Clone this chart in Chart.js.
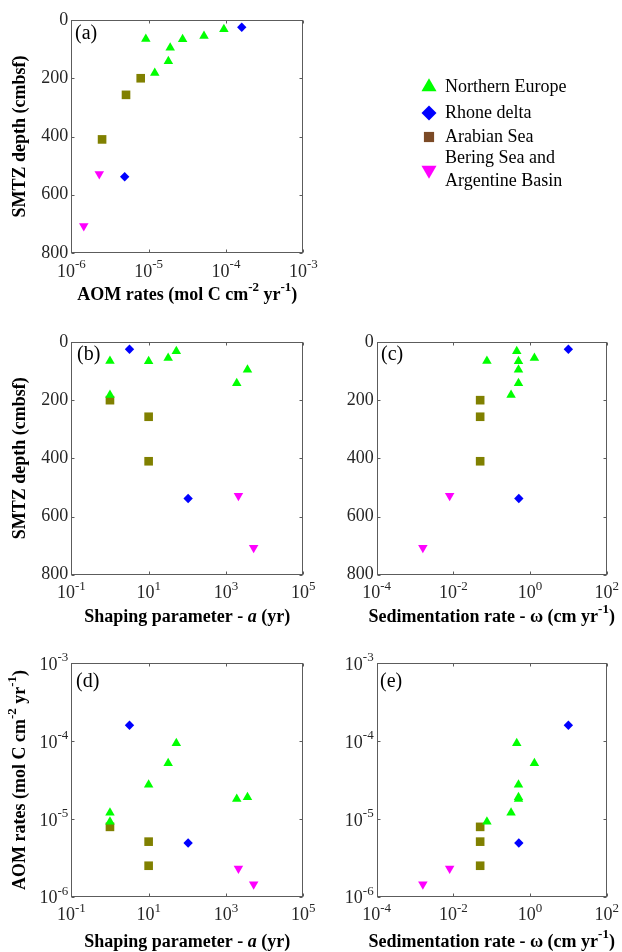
<!DOCTYPE html>
<html>
<head>
<meta charset="utf-8">
<title>SMTZ depth vs AOM rates</title>
<script src="https://cdn.jsdelivr.net/npm/chart.js@4.4.1/dist/chart.umd.min.js"></script>
<style>
  html, body { margin: 0; padding: 0; background: #fff; }
  #wrap { position: relative; width: 622px; height: 952px; overflow: hidden; }
  #wrap canvas { position: absolute; left: 0; top: 0; }
</style>
</head>
<body>
<div id="wrap">
  <canvas id="pa" width="622" height="952"></canvas>
  <canvas id="pb" width="622" height="952"></canvas>
  <canvas id="pc" width="622" height="952"></canvas>
  <canvas id="pd" width="622" height="952"></canvas>
  <canvas id="pe" width="622" height="952"></canvas>
</div>
<script>
const SERIF = "'Liberation Serif', 'Times New Roman', serif";
Chart.defaults.font.family = SERIF;
Chart.defaults.animation = false;

// ── Data ─────────────────────────────────────────────────────────────────────

const groups = ['Northern Europe', 'Rhone delta', 'Arabian Sea', 'Bering Sea and Argentine Basin'];

// Northern Europe
const neAom   = [9.2e-6, 1.9e-5, 2.75e-5, 5.2e-5, 9.4e-5, 1.8e-5, 1.2e-5];
const neDepth = [65, 95, 66, 55, 32, 142, 182];
const neShape = [1, 3600, 10, 32, 52, 1900, 1];
const neSed   = [0.075, 0.5, 0.5, 1.3, 0.45, 0.5, 0.32];

// Rhone delta
const rdAom   = [1.6e-4, 4.9e-6];
const rdDepth = [25, 538];
const rdShape = [3.2, 105];
const rdSed   = [10, 0.51];

// Arabian Sea
const asAom   = [7.9e-6, 5.1e-6, 2.5e-6];
const asDepth = [200, 257, 410];
const asShape = [1, 10, 10];
const asSed   = [0.05, 0.05, 0.05];

// Bering Sea and Argentine Basin
const bsAom   = [2.3e-6, 1.45e-6];
const bsDepth = [529, 707];
const bsShape = [2100, 5200];
const bsSed   = [0.008, 0.0016];

// tick labels (log axes hold the exponent)
const depthTicks = [0, 200, 400, 600, 800];
const aomTicks   = [-6, -5, -4, -3];
const shapeTicks = [-1, 1, 3, 5];
const sedTicks   = [-4, -2, 0, 2];

const VARS = {
  aom:   [neAom, rdAom, asAom, bsAom],
  depth: [neDepth, rdDepth, asDepth, bsDepth],
  shape: [neShape, rdShape, asShape, bsShape],
  sed:   [neSed, rdSed, asSed, bsSed],
};

// ── Axis + marker setup ──────────────────────────────────────────────────────

const AXES = {
  aom:   { type: 'logarithmic', min: 1e-6, max: 1e-3, ticks: aomTicks, log: true },
  depth: { type: 'linear', min: 0, max: 800, reverse: true, ticks: depthTicks, log: false },
  shape: { type: 'logarithmic', min: 0.1, max: 1e5, ticks: shapeTicks, log: true },
  sed:   { type: 'logarithmic', min: 1e-4, max: 100, ticks: sedTicks, log: true },
};

const TITLES = {
  aom:   [['AOM rates (mol C cm'], ['-2', 'sup'], [' yr'], ['-1', 'sup'], [')']],
  depth: [['SMTZ depth (cmbsf)']],
  shape: [['Shaping parameter - '], ['a', 'it'], [' (yr)']],
  sed:   [['Sedimentation rate - \u03c9 (cm yr'], ['-1', 'sup'], [')']],
};

const MARK = [
  { style: 'triangle', rot: 0,   r: 5.5, color: '#00ff00', legendR: 8.7, legendColor: '#00ff00' },
  { style: 'rectRot',  rot: 0,   r: 4.7, color: '#0000ff', legendR: 7.5, legendColor: '#0000ff' },
  { style: 'rect',     rot: 0,   r: 6.1, color: '#808000', legendR: 7.2, legendColor: '#7b4a26' },
  { style: 'triangle', rot: 180, r: 5.5, color: '#ff00ff', legendR: 8.7, legendColor: '#ff00ff' },
];

const PANELS = [
  { id: 'pa', tag: '(a)', x: 'aom',   y: 'depth', box: [71.3, 20, 303.3, 253],      tagAt: [75, 34],   xTitleY: 295, yTitle: true, legend: true },
  { id: 'pb', tag: '(b)', x: 'shape', y: 'depth', box: [71.3, 342, 303.3, 574.7],   tagAt: [77, 355],  xTitleY: 617, yTitle: true },
  { id: 'pc', tag: '(c)', x: 'sed',   y: 'depth', box: [376.7, 342, 606.7, 574.7],  tagAt: [381, 355], xTitleY: 617, yTitle: false },
  { id: 'pd', tag: '(d)', x: 'shape', y: 'aom',   box: [71.3, 663.3, 303.3, 896.7], tagAt: [76, 682],  xTitleY: 942, yTitle: true },
  { id: 'pe', tag: '(e)', x: 'sed',   y: 'aom',   box: [376.7, 663.3, 606.7, 896.7], tagAt: [380, 682], xTitleY: 942, yTitle: false },
];

function el(id) { return document.getElementById(id); }

function series(xs, ys) { return xs.map((x, i) => ({ x, y: ys[i] })); }

// ── Rich text (superscripts / italics) ───────────────────────────────────────

function partFont(kind, size, bold) {
  const w = bold ? 'bold ' : '';
  if (kind === 'sup') return `${w}${Math.round(size * 0.7)}px ${SERIF}`;
  if (kind === 'it') return `italic ${w}${size}px ${SERIF}`;
  return `${w}${size}px ${SERIF}`;
}

function richWidth(ctx, parts, size, bold) {
  let w = 0;
  for (const [t, k] of parts) { ctx.font = partFont(k, size, bold); w += ctx.measureText(t).width; }
  return w;
}

// draws at (x, y) with textBaseline middle; align: left | center | right
function drawRich(ctx, parts, x, y, size, bold, align) {
  const total = richWidth(ctx, parts, size, bold);
  let cx = align === 'center' ? x - total / 2 : align === 'right' ? x - total : x;
  ctx.textAlign = 'left';
  ctx.textBaseline = 'middle';
  for (const [t, k] of parts) {
    ctx.font = partFont(k, size, bold);
    ctx.fillText(t, cx, k === 'sup' ? y - size * 0.42 : y);
    cx += ctx.measureText(t).width;
  }
}

function tickParts(ax, v) {
  return ax.log ? [['10'], [String(v), 'sup']] : [[String(v)]];
}

function tickValue(ax, v) { return ax.log ? Math.pow(10, v) : v; }

// ── MATLAB-style box, ticks, labels ──────────────────────────────────────────

const matlabAxes = {
  id: 'matlabAxes',
  beforeDatasetsDraw(chart, args, o) {
    const { ctx, chartArea: a, scales: { x, y } } = chart;
    const L = Math.round(a.left) + 0.5, R = Math.round(a.right) - 0.5;
    const T = Math.round(a.top) + 0.5, B = Math.round(a.bottom) - 0.5;
    const tl = 3;
    ctx.save();
    ctx.strokeStyle = '#5c5c5c';
    ctx.lineWidth = 1;
    ctx.strokeRect(L, T, R - L, B - T);
    ctx.beginPath();
    for (const v of o.xAx.ticks) {
      const px = Math.round(x.getPixelForValue(tickValue(o.xAx, v))) + 0.5;
      ctx.moveTo(px, B); ctx.lineTo(px, B - tl);
      ctx.moveTo(px, T); ctx.lineTo(px, T + tl);
    }
    for (const v of o.yAx.ticks) {
      const py = Math.round(y.getPixelForValue(tickValue(o.yAx, v))) + 0.5;
      ctx.moveTo(L, py); ctx.lineTo(L + tl, py);
      ctx.moveTo(R, py); ctx.lineTo(R - tl, py);
    }
    ctx.stroke();
    ctx.restore();
  },
  afterDraw(chart, args, o) {
    const { ctx, chartArea: a, scales: { x, y } } = chart;
    ctx.save();
    ctx.fillStyle = '#262626';
    // tick labels
    for (const v of o.xAx.ticks) {
      drawRich(ctx, tickParts(o.xAx, v), x.getPixelForValue(tickValue(o.xAx, v)), a.bottom + 19, 18, false, 'center');
    }
    for (const v of o.yAx.ticks) {
      const off = o.yAx.log ? 2 : 0;
      drawRich(ctx, tickParts(o.yAx, v), a.left - 3, y.getPixelForValue(tickValue(o.yAx, v)) + off, 18, false, 'right');
    }
    // axis titles
    ctx.fillStyle = '#000';
    drawRich(ctx, o.xTitle, (a.left + a.right) / 2, o.xTitleY, 18, true, 'center');
    if (o.yTitle) {
      ctx.save();
      ctx.translate(20, (a.top + a.bottom) / 2);
      ctx.rotate(-Math.PI / 2);
      drawRich(ctx, o.yTitle, 0, 0, 18, true, 'center');
      ctx.restore();
    }
    // panel tag
    ctx.font = `20px ${SERIF}`;
    ctx.textAlign = 'left';
    ctx.textBaseline = 'middle';
    ctx.fillText(o.tag, o.tagAt[0], o.tagAt[1]);
    if (o.legend) drawLegend(ctx);
    ctx.restore();
  }
};

// ── Legend (drawn on panel a) ────────────────────────────────────────────────

const legendRows = [
  { mark: 0, lines: ['Northern Europe'], y: 87 },
  { mark: 1, lines: ['Rhone delta'], y: 113 },
  { mark: 2, lines: ['Arabian Sea'], y: 137 },
  { mark: 3, lines: ['Bering Sea and', 'Argentine Basin'], y: 170 },
];

function drawLegend(ctx) {
  const mx = 429, tx = 445;
  for (const row of legendRows) {
    const m = MARK[row.mark];
    ctx.fillStyle = m.legendColor;
    ctx.strokeStyle = m.legendColor;
    Chart.helpers.drawPoint(ctx, { pointStyle: m.style, rotation: m.rot, radius: m.legendR, borderWidth: 0 }, mx, row.y);
    ctx.fillStyle = '#000';
    ctx.font = `18px ${SERIF}`;
    ctx.textAlign = 'left';
    ctx.textBaseline = 'middle';
    const n = row.lines.length;
    row.lines.forEach((t, i) => ctx.fillText(t, tx, row.y + (i - (n - 1) / 2) * 22.5));
  }
}

// ── Build panels ─────────────────────────────────────────────────────────────

function makePanel(p) {
  const X = VARS[p.x], Y = VARS[p.y];
  const xAx = AXES[p.x], yAx = AXES[p.y];
  const [l, t, r, b] = p.box;
  new Chart(el(p.id), {
    type: 'scatter',
    data: {
      datasets: groups.map((g, i) => ({
        label: g,
        data: series(X[i], Y[i]),
        pointStyle: MARK[i].style,
        rotation: MARK[i].rot,
        pointRadius: MARK[i].r,
        backgroundColor: MARK[i].color,
        borderColor: MARK[i].color,
        borderWidth: 0,
        clip: false,
      }))
    },
    options: {
      responsive: false,
      animation: false,
      events: [],
      layout: { padding: { left: l, top: t, right: 622 - r, bottom: 952 - b } },
      plugins: {
        legend: { display: false },
        tooltip: { enabled: false },
        matlabAxes: {
          xAx, yAx, tag: p.tag, tagAt: p.tagAt, legend: !!p.legend,
          xTitle: TITLES[p.x], xTitleY: p.xTitleY,
          yTitle: p.yTitle ? TITLES[p.y] : null,
        }
      },
      scales: {
        x: { type: xAx.type, min: xAx.min, max: xAx.max, display: false },
        y: { type: yAx.type, min: yAx.min, max: yAx.max, reverse: !!yAx.reverse, display: false },
      }
    },
    plugins: [matlabAxes]
  });
}

PANELS.forEach(makePanel);
</script>
</body>
</html>
